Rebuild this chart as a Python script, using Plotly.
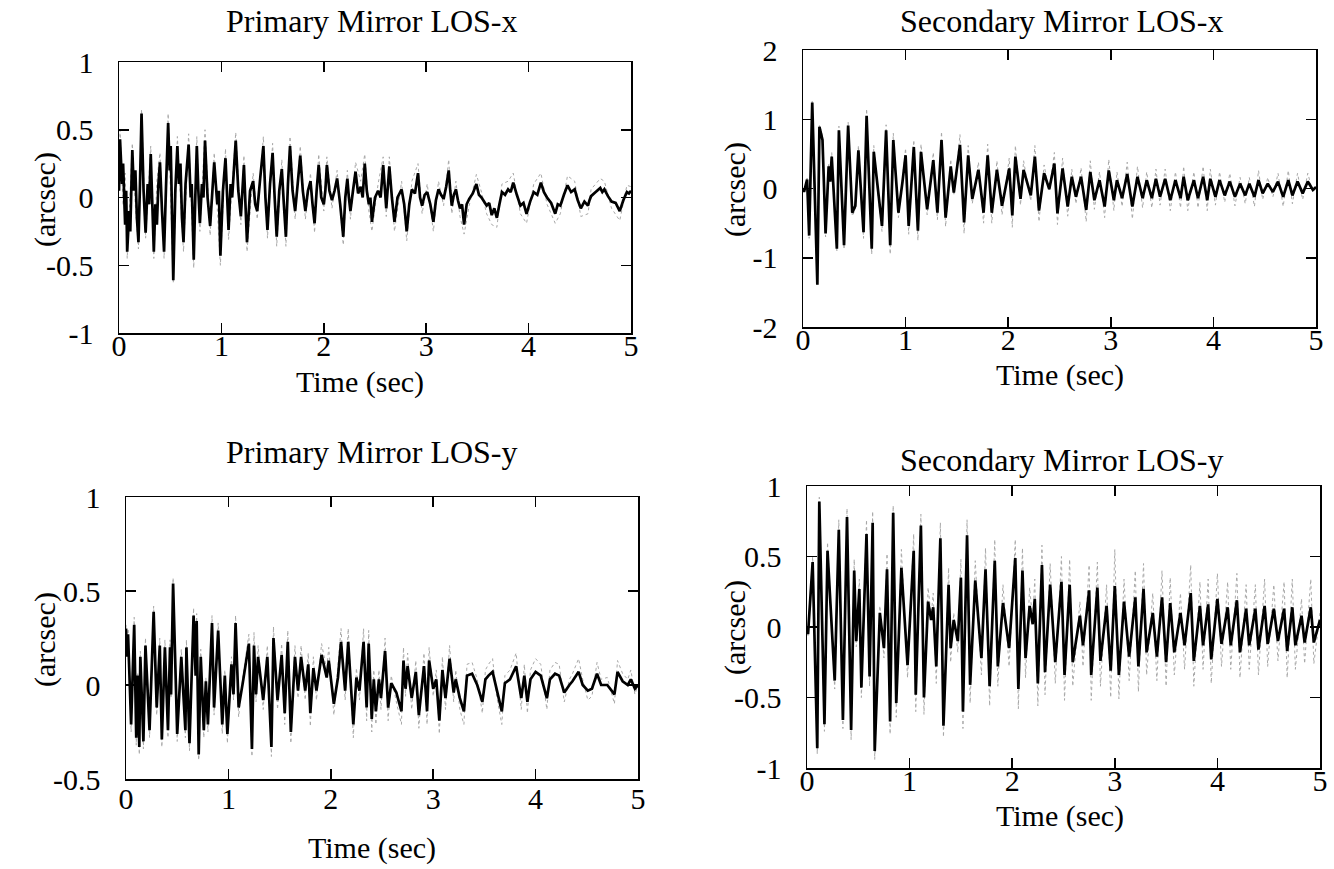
import plotly.graph_objects as go

# ---------------- Primary Mirror LOS-x ----------------
pmx_t = [
    0.00, 0.01, 0.03, 0.04, 0.06, 0.07, 0.08, 0.10, 0.11, 0.13,
    0.145, 0.16, 0.175, 0.19, 0.205, 0.22, 0.24, 0.26, 0.28, 0.295,
    0.31, 0.325, 0.34, 0.355, 0.37, 0.385, 0.40, 0.42, 0.44, 0.46,
    0.48, 0.495, 0.505, 0.53, 0.55, 0.57, 0.585, 0.60, 0.615, 0.63,
    0.65, 0.68, 0.70, 0.71, 0.73, 0.745, 0.76, 0.775, 0.79, 0.81,
    0.825, 0.84, 0.865, 0.89, 0.91, 0.93, 0.96, 0.975, 0.99, 1.015,
    1.04, 1.055, 1.07, 1.09, 1.105, 1.14, 1.165, 1.19, 1.205, 1.22,
    1.235, 1.25, 1.28, 1.31, 1.33, 1.35, 1.38, 1.41, 1.43, 1.45,
    1.475, 1.50, 1.52, 1.54, 1.565, 1.59, 1.61, 1.63, 1.65, 1.67,
    1.695, 1.72, 1.745, 1.77, 1.795, 1.82, 1.845, 1.87, 1.89, 1.91,
    1.93, 1.95, 1.975, 2.00, 2.015, 2.03, 2.055, 2.08, 2.105, 2.13,
    2.16, 2.19, 2.21, 2.23, 2.245, 2.26, 2.285, 2.31, 2.335, 2.36,
    2.38, 2.40, 2.42, 2.44, 2.455, 2.47, 2.50, 2.53, 2.555, 2.58,
    2.61, 2.64, 2.665, 2.69, 2.72, 2.76, 2.785, 2.81, 2.835, 2.86,
    2.89, 2.92, 2.94, 2.96, 2.985, 3.01, 3.04, 3.07, 3.095, 3.12,
    3.145, 3.17, 3.195, 3.22, 3.235, 3.25, 3.27, 3.29, 3.31, 3.33,
    3.35, 3.37, 3.395, 3.42, 3.455, 3.49, 3.515, 3.54, 3.565, 3.59,
    3.615, 3.64, 3.665, 3.69, 3.715, 3.74, 3.77, 3.80, 3.825, 3.85,
    3.885, 3.92, 3.95, 3.98, 4.015, 4.05, 4.085, 4.12, 4.15, 4.18,
    4.22, 4.26, 4.285, 4.31, 4.345, 4.38, 4.415, 4.45, 4.48, 4.51,
    4.545, 4.58, 4.595, 4.61, 4.655, 4.70, 4.72, 4.74, 4.775, 4.81,
    4.85, 4.89, 4.925, 4.96, 4.98, 5.00,
]
pmx_solid = [
    0.05, 0.43, 0.10, 0.25, -0.20, 0.05, -0.40, -0.10, -0.25, 0.35,
    0.05, 0.20, -0.15, -0.33, 0.10, 0.62, 0.05, -0.26, 0.10, -0.05,
    0.32, 0.00, -0.40, -0.05, -0.20, 0.10, 0.26, -0.10, -0.40, 0.10,
    0.55, 0.20, 0.38, -0.61, 0.05, 0.38, 0.10, 0.25, -0.15, -0.33,
    0.10, 0.39, 0.00, 0.10, -0.46, 0.00, 0.38, 0.05, -0.19, 0.10,
    0.00, 0.42, 0.00, -0.21, 0.05, 0.26, -0.05, 0.05, -0.43, 0.05,
    0.29, 0.00, -0.24, 0.10, 0.00, 0.42, 0.05, -0.14, 0.05, 0.24,
    -0.05, -0.33, 0.05, 0.12, -0.05, -0.10, 0.15, 0.38, 0.00, -0.24,
    0.10, 0.33, 0.00, -0.29, 0.05, 0.21, -0.05, -0.29, 0.10, 0.38,
    0.05, -0.10, 0.10, 0.31, 0.05, -0.10, 0.05, 0.12, -0.05, -0.19,
    0.05, 0.24, 0.00, -0.05, 0.05, 0.24, 0.05, -0.02, 0.05, 0.14,
    -0.05, -0.29, 0.00, 0.14, 0.00, -0.10, 0.05, 0.19, 0.03, 0.08,
    0.00, 0.25, 0.05, -0.05, 0.00, -0.18, 0.00, 0.05, 0.00, 0.24,
    -0.08, 0.23, 0.00, -0.18, 0.00, 0.06, -0.05, -0.25, -0.05, 0.06,
    0.03, 0.18, 0.00, -0.06, 0.02, 0.04, -0.05, -0.18, -0.02, 0.06,
    0.02, -0.01, 0.08, 0.20, 0.05, -0.06, 0.02, 0.06, -0.02, -0.08,
    -0.05, -0.20, -0.05, -0.01, 0.03, 0.10, 0.02, 0.00, -0.03, -0.06,
    -0.04, -0.13, -0.08, -0.15, -0.05, 0.04, 0.02, 0.06, 0.04, 0.11,
    0.02, -0.06, -0.04, -0.12, -0.03, 0.04, 0.02, 0.11, 0.04, 0.00,
    -0.04, -0.12, -0.05, -0.06, 0.02, 0.09, 0.04, 0.06, -0.02, -0.08,
    -0.03, -0.06, -0.02, 0.01, 0.04, 0.07, 0.04, 0.06, 0.01, -0.03,
    -0.04, -0.10, -0.02, 0.04, 0.03, 0.05,
]
pmx_dot_t = [
    0.00, 0.01, 0.04, 0.06, 0.08, 0.13, 0.16, 0.19, 0.22, 0.26,
    0.31, 0.34, 0.37, 0.40, 0.44, 0.48, 0.53, 0.57, 0.60, 0.63,
    0.68, 0.73, 0.76, 0.79, 0.84, 0.89, 0.93, 0.99, 1.04, 1.07,
    1.14, 1.19, 1.22, 1.25, 1.31, 1.35, 1.41, 1.45, 1.50, 1.54,
    1.59, 1.63, 1.67, 1.72, 1.77, 1.82, 1.87, 1.91, 1.95, 2.00,
    2.03, 2.08, 2.13, 2.19, 2.23, 2.26, 2.31, 2.36, 2.40, 2.44,
    2.47, 2.53, 2.58, 2.61, 2.64, 2.69, 2.76, 2.81, 2.86, 2.92,
    2.96, 3.01, 3.07, 3.12, 3.17, 3.22, 3.25, 3.29, 3.33, 3.37,
    3.42, 3.49, 3.54, 3.59, 3.64, 3.69, 3.74, 3.80, 3.85, 3.92,
    3.98, 4.05, 4.12, 4.18, 4.26, 4.31, 4.38, 4.45, 4.51, 4.58,
    4.61, 4.70, 4.74, 4.81, 4.89, 4.96, 5.00,
]
pmx_dotted = [
    0.05, 0.50, -0.06, 0.18, -0.45, 0.40, -0.06, -0.38, 0.65, -0.30,
    0.38, -0.45, 0.12, 0.33, -0.45, 0.62, -0.63, 0.45, 0.00, -0.40,
    0.47, -0.52, 0.45, -0.25, 0.50, -0.28, 0.33, -0.50, 0.36, -0.31,
    0.48, -0.20, 0.31, -0.40, 0.18, -0.16, 0.45, -0.30, 0.40, -0.36,
    0.28, -0.36, 0.45, -0.16, 0.38, -0.16, 0.18, -0.26, 0.32, -0.10,
    0.30, -0.08, 0.20, -0.35, 0.20, -0.16, 0.26, 0.12, 0.32, -0.10,
    -0.25, 0.10, 0.30, -0.14, 0.30, -0.25, 0.12, -0.32, 0.12, 0.25,
    -0.12, 0.10, -0.25, 0.12, -0.06, 0.28, -0.12, 0.12, -0.14, -0.27,
    -0.06, 0.17, 0.04, -0.12, -0.20, -0.22, 0.10, 0.12, 0.18, -0.12,
    -0.19, 0.10, 0.18, -0.05, -0.19, -0.12, 0.16, 0.12, -0.14, -0.12,
    0.06, 0.14, 0.12, -0.08, -0.17, 0.09, 0.08,
]

# ---------------- Secondary Mirror LOS-x ----------------
smx_t = [
    0.00, 0.01, 0.04, 0.06, 0.09, 0.14, 0.16, 0.19, 0.22, 0.25,
    0.265, 0.28, 0.33, 0.35, 0.40, 0.44, 0.48, 0.51, 0.54, 0.59,
    0.62, 0.67, 0.69, 0.73, 0.77, 0.81, 0.85, 0.88, 0.93, 0.97,
    1.00, 1.03, 1.08, 1.12, 1.15, 1.21, 1.27, 1.31, 1.35, 1.39,
    1.44, 1.47, 1.53, 1.57, 1.61, 1.65, 1.71, 1.76, 1.80, 1.84,
    1.89, 1.94, 2.01, 2.04, 2.07, 2.12, 2.15, 2.22, 2.26, 2.30,
    2.35, 2.40, 2.45, 2.48, 2.53, 2.58, 2.62, 2.66, 2.71, 2.76,
    2.80, 2.84, 2.89, 2.94, 2.98, 3.03, 3.06, 3.11, 3.16, 3.21,
    3.26, 3.31, 3.35, 3.40, 3.44, 3.48, 3.53, 3.58, 3.63, 3.68,
    3.71, 3.75, 3.81, 3.85, 3.90, 3.94, 3.97, 4.02, 4.06, 4.11,
    4.16, 4.21, 4.26, 4.31, 4.35, 4.40, 4.44, 4.48, 4.53, 4.58,
    4.63, 4.68, 4.73, 4.77, 4.82, 4.87, 4.92, 4.97, 5.00,
]
smx_solid = [
    0.00, -0.05, 0.13, -0.68, 1.24, -1.39, 0.89, 0.70, -0.65, 0.32,
    0.10, 0.46, -0.87, 0.84, -0.82, 0.91, -0.35, -0.25, 0.55, -0.63,
    1.05, -0.87, 0.53, -0.05, -0.54, 0.84, -0.82, 0.70, -0.35, 0.10,
    0.48, -0.54, 0.60, -0.61, 0.53, -0.30, 0.41, -0.35, 0.70, -0.42,
    0.32, -0.06, 0.63, -0.49, 0.48, -0.15, 0.27, -0.35, 0.48, -0.35,
    0.27, -0.25, 0.29, -0.39, 0.46, -0.15, 0.27, -0.10, 0.46, -0.32,
    0.22, -0.01, 0.36, -0.36, 0.29, -0.26, 0.17, -0.12, 0.17, -0.31,
    0.24, -0.17, 0.12, -0.26, 0.26, -0.17, 0.12, -0.14, 0.21, -0.26,
    0.17, -0.14, 0.12, -0.14, 0.14, -0.12, 0.14, -0.17, 0.12, -0.14,
    0.17, -0.17, 0.12, -0.14, 0.17, -0.17, 0.14, -0.12, 0.12, -0.10,
    0.10, -0.12, 0.07, -0.10, 0.07, -0.12, 0.12, -0.07, 0.07, -0.05,
    0.10, -0.12, 0.12, -0.10, 0.10, -0.07, 0.10, -0.02, 0.02,
]
smx_dotted = [
    0.00, -0.06, 0.15, -0.72, 1.26, -1.40, 0.92, 0.76, -0.70, 0.36,
    0.12, 0.52, -0.90, 0.90, -0.88, 0.96, -0.40, -0.30, 0.62, -0.72,
    1.15, -0.95, 0.62, -0.08, -0.62, 0.92, -0.95, 0.80, -0.42, 0.14,
    0.58, -0.66, 0.70, -0.75, 0.64, -0.38, 0.52, -0.45, 0.82, -0.55,
    0.42, -0.10, 0.78, -0.65, 0.62, -0.22, 0.38, -0.50, 0.64, -0.50,
    0.40, -0.38, 0.44, -0.56, 0.62, -0.24, 0.40, -0.18, 0.62, -0.48,
    0.34, -0.04, 0.52, -0.52, 0.44, -0.40, 0.28, -0.22, 0.30, -0.48,
    0.40, -0.30, 0.24, -0.42, 0.42, -0.32, 0.24, -0.26, 0.38, -0.44,
    0.32, -0.28, 0.24, -0.28, 0.28, -0.24, 0.28, -0.32, 0.24, -0.28,
    0.32, -0.32, 0.24, -0.28, 0.32, -0.32, 0.28, -0.24, 0.24, -0.20,
    0.22, -0.25, 0.16, -0.22, 0.16, -0.26, 0.26, -0.16, 0.16, -0.12,
    0.22, -0.26, 0.26, -0.22, 0.22, -0.16, 0.22, -0.06, 0.04,
]

# ---------------- Primary Mirror LOS-y ----------------
ply_t = [
    0.00, 0.01, 0.02, 0.05, 0.08, 0.10, 0.115, 0.13, 0.14, 0.17,
    0.19, 0.23, 0.27, 0.30, 0.33, 0.35, 0.38, 0.41, 0.43, 0.44,
    0.46, 0.50, 0.54, 0.58, 0.59, 0.62, 0.66, 0.68, 0.69, 0.71,
    0.73, 0.76, 0.78, 0.80, 0.84, 0.86, 0.90, 0.94, 0.965, 0.99,
    1.03, 1.05, 1.07, 1.10, 1.14, 1.20, 1.23, 1.25, 1.27, 1.29,
    1.34, 1.38, 1.42, 1.44, 1.48, 1.52, 1.55, 1.58, 1.61, 1.65,
    1.68, 1.71, 1.75, 1.78, 1.80, 1.83, 1.86, 1.91, 1.96, 1.98,
    2.03, 2.07, 2.10, 2.14, 2.17, 2.22, 2.25, 2.28, 2.32, 2.35,
    2.37, 2.40, 2.42, 2.44, 2.47, 2.49, 2.53, 2.56, 2.59, 2.64,
    2.69, 2.71, 2.73, 2.75, 2.79, 2.83, 2.86, 2.91, 2.94, 2.96,
    3.00, 3.03, 3.06, 3.09, 3.12, 3.16, 3.20, 3.22, 3.26, 3.30,
    3.33, 3.38, 3.43, 3.48, 3.51, 3.54, 3.58, 3.62, 3.67, 3.70,
    3.75, 3.81, 3.86, 3.89, 3.92, 3.95, 4.00, 4.05, 4.11, 4.14,
    4.19, 4.23, 4.28, 4.33, 4.36, 4.42, 4.46, 4.51, 4.55, 4.60,
    4.64, 4.70, 4.77, 4.80, 4.85, 4.90, 4.93, 4.97, 5.00,
]
ply_solid = [
    0.30, 0.15, 0.27, -0.21, 0.32, -0.28, 0.05, -0.33, 0.15, -0.30,
    0.21, -0.24, 0.39, -0.12, 0.21, -0.29, 0.20, -0.24, 0.20, -0.05,
    0.54, -0.26, 0.15, -0.24, 0.20, -0.31, 0.37, 0.05, 0.34, -0.37,
    0.15, -0.24, 0.02, -0.21, 0.33, -0.12, 0.29, -0.21, 0.05, -0.26,
    0.11, -0.05, 0.33, -0.12, 0.01, 0.22, -0.34, 0.21, -0.05, 0.15,
    -0.08, 0.15, -0.33, 0.25, -0.08, 0.16, -0.15, 0.23, -0.25, 0.15,
    -0.03, 0.15, -0.03, 0.11, -0.15, 0.09, -0.03, 0.16, 0.04, 0.13,
    -0.10, 0.04, 0.23, -0.03, 0.23, -0.21, 0.04, -0.03, 0.23, -0.12,
    0.22, -0.18, 0.03, -0.14, 0.03, -0.07, 0.18, -0.12, 0.01, -0.04,
    -0.14, 0.13, -0.02, 0.10, -0.07, 0.07, -0.16, 0.10, -0.14, 0.13,
    -0.02, 0.03, -0.19, 0.08, -0.07, 0.14, -0.04, 0.03, -0.07, -0.14,
    0.05, 0.06, 0.00, -0.09, 0.03, 0.05, 0.07, -0.02, -0.14, 0.01,
    0.03, 0.10, -0.07, 0.05, -0.09, 0.03, 0.07, 0.05, -0.07, 0.03,
    0.06, 0.05, -0.04, 0.00, 0.02, 0.07, 0.00, -0.03, -0.02, 0.06,
    0.00, 0.00, -0.05, 0.07, 0.02, 0.00, 0.03, -0.02, 0.00,
]
ply_dotted = [
    0.32, 0.17, 0.30, -0.25, 0.36, -0.32, 0.06, -0.37, 0.18, -0.34,
    0.25, -0.28, 0.42, -0.16, 0.25, -0.33, 0.24, -0.28, 0.24, -0.07,
    0.57, -0.30, 0.19, -0.28, 0.24, -0.35, 0.41, 0.07, 0.38, -0.40,
    0.19, -0.28, 0.04, -0.25, 0.37, -0.16, 0.33, -0.26, 0.08, -0.31,
    0.15, -0.08, 0.37, -0.17, 0.04, 0.27, -0.38, 0.28, -0.09, 0.21,
    -0.13, 0.21, -0.38, 0.31, -0.13, 0.22, -0.21, 0.29, -0.31, 0.21,
    -0.07, 0.21, -0.08, 0.17, -0.22, 0.15, -0.08, 0.22, 0.08, 0.20,
    -0.16, 0.09, 0.30, -0.08, 0.30, -0.28, 0.09, -0.08, 0.30, -0.19,
    0.29, -0.25, 0.08, -0.21, 0.08, -0.13, 0.25, -0.19, 0.05, -0.09,
    -0.21, 0.20, -0.06, 0.17, -0.13, 0.13, -0.23, 0.17, -0.21, 0.20,
    -0.06, 0.08, -0.26, 0.15, -0.13, 0.21, -0.09, 0.08, -0.13, -0.21,
    0.11, 0.12, 0.03, -0.15, 0.08, 0.11, 0.14, -0.06, -0.21, 0.05,
    0.08, 0.17, -0.13, 0.11, -0.15, 0.08, 0.14, 0.11, -0.13, 0.08,
    0.12, 0.11, -0.09, 0.03, 0.06, 0.14, 0.03, -0.08, -0.06, 0.12,
    0.03, 0.04, -0.10, 0.13, 0.06, 0.03, 0.08, -0.05, 0.00,
]

# ---------------- Secondary Mirror LOS-y ----------------
sly_t = [
    0.00, 0.01, 0.055, 0.10, 0.12, 0.17, 0.20, 0.27, 0.31, 0.35,
    0.39, 0.43, 0.46, 0.48, 0.51, 0.53, 0.58, 0.61, 0.64, 0.66,
    0.71, 0.75, 0.78, 0.81, 0.84, 0.87, 0.92, 0.98, 1.04, 1.06,
    1.11, 1.14, 1.18, 1.21, 1.23, 1.26, 1.30, 1.33, 1.38, 1.40,
    1.43, 1.47, 1.50, 1.52, 1.56, 1.59, 1.64, 1.70, 1.74, 1.78,
    1.83, 1.86, 1.91, 1.97, 2.03, 2.06, 2.10, 2.13, 2.17, 2.20,
    2.22, 2.25, 2.29, 2.32, 2.37, 2.42, 2.48, 2.51, 2.56, 2.59,
    2.66, 2.69, 2.75, 2.77, 2.83, 2.86, 2.92, 2.96, 3.00, 3.04,
    3.09, 3.14, 3.20, 3.23, 3.28, 3.31, 3.37, 3.41, 3.46, 3.50,
    3.54, 3.58, 3.64, 3.68, 3.74, 3.77, 3.83, 3.86, 3.91, 3.94,
    4.00, 4.04, 4.10, 4.13, 4.19, 4.22, 4.28, 4.31, 4.37, 4.40,
    4.46, 4.49, 4.55, 4.59, 4.65, 4.68, 4.73, 4.76, 4.82, 4.85,
    4.91, 4.94, 5.00,
]
sly_solid = [
    0.00, -0.05, 0.46, -0.86, 0.89, -0.69, 0.54, -0.38, 0.69, -0.66,
    0.78, -0.73, 0.40, -0.10, 0.27, -0.43, 0.66, -0.35, 0.74, -0.88,
    0.10, -0.15, 0.41, -0.67, 0.81, -0.54, 0.42, -0.27, 0.54, -0.48,
    0.72, -0.50, 0.18, 0.05, 0.14, -0.28, 0.63, -0.70, 0.30, -0.15,
    0.05, -0.10, 0.35, -0.60, 0.65, -0.41, 0.33, -0.22, 0.41, -0.42,
    0.47, -0.28, 0.17, -0.15, 0.49, -0.44, 0.40, -0.22, 0.15, 0.02,
    0.20, -0.40, 0.44, -0.32, 0.30, -0.25, 0.32, -0.34, 0.30, -0.25,
    0.08, -0.13, 0.26, -0.34, 0.28, -0.24, 0.15, -0.31, 0.29, -0.34,
    0.18, -0.21, 0.21, -0.28, 0.27, -0.18, 0.10, -0.21, 0.21, -0.25,
    0.17, -0.18, 0.10, -0.13, 0.24, -0.24, 0.15, -0.13, 0.16, -0.23,
    0.20, -0.12, 0.14, -0.13, 0.19, -0.18, 0.13, -0.13, 0.13, -0.16,
    0.15, -0.12, 0.13, -0.10, 0.13, -0.17, 0.14, -0.13, 0.08, -0.11,
    0.14, -0.11, 0.05,
]
sly_dotted = [
    0.00, -0.06, 0.50, -0.90, 0.92, -0.74, 0.60, -0.44, 0.76, -0.72,
    0.84, -0.80, 0.48, -0.14, 0.34, -0.50, 0.76, -0.42, 0.82, -0.94,
    0.15, -0.22, 0.52, -0.76, 0.86, -0.64, 0.55, -0.36, 0.66, -0.60,
    0.80, -0.62, 0.28, 0.08, 0.24, -0.40, 0.74, -0.78, 0.42, -0.25,
    0.10, -0.18, 0.48, -0.72, 0.76, -0.54, 0.47, -0.34, 0.56, -0.56,
    0.62, -0.42, 0.30, -0.28, 0.62, -0.58, 0.56, -0.36, 0.28, 0.04,
    0.34, -0.56, 0.58, -0.48, 0.45, -0.40, 0.50, -0.52, 0.48, -0.42,
    0.18, -0.28, 0.44, -0.52, 0.46, -0.42, 0.30, -0.50, 0.55, -0.51,
    0.34, -0.38, 0.40, -0.46, 0.45, -0.34, 0.24, -0.38, 0.40, -0.42,
    0.35, -0.34, 0.24, -0.30, 0.44, -0.42, 0.32, -0.30, 0.34, -0.40,
    0.38, -0.28, 0.32, -0.30, 0.38, -0.36, 0.30, -0.30, 0.30, -0.34,
    0.34, -0.28, 0.30, -0.24, 0.32, -0.36, 0.34, -0.30, 0.20, -0.26,
    0.34, -0.26, 0.10,
]

titles = ["Primary Mirror LOS-x", "Secondary Mirror LOS-x",
          "Primary Mirror LOS-y", "Secondary Mirror LOS-y"]
x_ticks = [0, 1, 2, 3, 4, 5]
y_ticks = [[-1, -0.5, 0, 0.5, 1], [-2, -1, 0, 1, 2],
           [-0.5, 0, 0.5, 1], [-1, -0.5, 0, 0.5, 1]]
y_ranges = [[-1, 1], [-2, 2], [-0.5, 1], [-1, 1]]
x_label = "Time (sec)"
y_label = "(arcsec)"

series = [
    (pmx_t, pmx_solid, pmx_dot_t, pmx_dotted),
    (smx_t, smx_solid, smx_t, smx_dotted),
    (ply_t, ply_solid, ply_t, ply_dotted),
    (sly_t, sly_solid, sly_t, sly_dotted),
]
for t, s, td, d in series:
    assert len(t) == len(s), (len(t), len(s))
    assert len(td) == len(d), (len(td), len(d))

W, H = 1334, 869
FONT = "Liberation Serif, Times New Roman, serif"


def fx(px):
    return px / W


def fy(py):
    return 1 - py / H


# panel boxes in pixels of the final picture: (left, right, top, bottom)
boxes = [(119, 631, 62, 333), (803, 1316, 50, 327),
         (126, 638, 497, 779), (807, 1320, 486, 768)]
x_standoff = [-15, -15, -8, -15]
# text positions in pixels of the final picture
title_pos = [(372, 21), (1061, 21), (372, 452), (1061, 460)]
xlab_pos = [(360, 382), (1060, 375), (372, 848), (1060, 816)]
ylab_pos = [(45, 200), (735, 190), (45, 640), (735, 628)]

fig = go.Figure()
layout = dict(
    width=W, height=H, margin=dict(l=0, r=0, t=0, b=0, autoexpand=False),
    paper_bgcolor="white", plot_bgcolor="white",
    showlegend=False, font=dict(family=FONT, size=30, color="black"),
)
annotations = []

for i, (t, s, td, d) in enumerate(series):
    n = "" if i == 0 else str(i + 1)
    xa, ya = "x" + n, "y" + n
    fig.add_trace(go.Scatter(x=td, y=d, mode="lines", xaxis=xa, yaxis=ya,
                             line=dict(color="#a8a8a8", width=1, dash="dot"),
                             hoverinfo="skip"))
    fig.add_trace(go.Scatter(x=t, y=s, mode="lines", xaxis=xa, yaxis=ya,
                             line=dict(color="black", width=2.7),
                             hoverinfo="skip"))
    l, r, tp, b = boxes[i]
    common = dict(showline=True, linecolor="black", linewidth=1.5,
                  mirror="ticks", ticks="inside", ticklen=10, tickwidth=1.5,
                  tickcolor="black", showgrid=False, zeroline=False,
                  automargin=False,
                  tickfont=dict(family=FONT, size=30, color="black"))
    layout["xaxis" + n] = dict(common, domain=[fx(l), fx(r)], anchor=ya,
                               range=[0, 5], tickvals=x_ticks,
                               ticktext=[str(v) for v in x_ticks],
                               ticklabelstandoff=x_standoff[i])
    layout["yaxis" + n] = dict(common, domain=[fy(b), fy(tp)],
                               anchor=xa, range=y_ranges[i],
                               tickvals=y_ticks[i],
                               ticktext=[("%g" % v) for v in y_ticks[i]],
                               ticklabelstandoff=18)
    tx, ty = title_pos[i]
    annotations.append(dict(text=titles[i], x=fx(tx), y=fy(ty),
                            xref="paper", yref="paper", showarrow=False,
                            xanchor="center", yanchor="middle",
                            font=dict(family=FONT, size=32, color="black")))
    lx, ly = xlab_pos[i]
    annotations.append(dict(text=x_label, x=fx(lx), y=fy(ly),
                            xref="paper", yref="paper", showarrow=False,
                            xanchor="center", yanchor="middle",
                            font=dict(family=FONT, size=30, color="black")))
    yx, yy = ylab_pos[i]
    annotations.append(dict(text=y_label, x=fx(yx), y=fy(yy),
                            xref="paper", yref="paper", showarrow=False,
                            xanchor="center", yanchor="middle", textangle=-90,
                            font=dict(family=FONT, size=30, color="black")))

layout["annotations"] = annotations
fig.update_layout(**layout)
fig.write_html("out.html",
               config={"displayModeBar": False, "staticPlot": True},
               post_script="document.body.style.margin='0px';")
